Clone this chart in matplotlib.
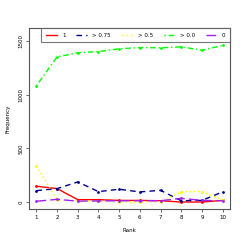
import numpy as np
import matplotlib
matplotlib.use("Agg")
import matplotlib.pyplot as plt

rank = np.arange(1, 11)
labels = ["1", "> 0.75", "> 0.5", "> 0.0", "0"]
freq_1 = [147, 125, 22, 22, 15, 15, 12, 0, 0, 15]
freq_075 = [106, 125, 187, 97, 119, 94, 109, 12, 15, 94]
freq_05 = [337, 19, 10, 5, 0, 0, 0, 97, 97, 20]
freq_00 = [1084, 1352, 1390, 1402, 1427, 1439, 1436, 1446, 1414, 1458]
freq_0 = [7, 25, 8, 10, 12, 12, 12, 34, 15, 12]

series = [freq_1, freq_075, freq_05, freq_00, freq_0]
colors = ["#FF0000", "#00008B", "#FFFF00", "#00FF00", "#A020F0"]
styles = ["-", (0, (4, 3)), (0, (1, 2)), (0, (1, 2, 4, 2)), (0, (7, 3))]

fig = plt.figure(figsize=(2.45, 2.45), dpi=100)
ax = fig.add_axes([29 / 245, 1 - 209 / 245, 201 / 245, 181 / 245])

for y, c, ls, lab in zip(series, colors, styles, labels):
    ax.plot(rank, y, color=c, linestyle=ls, lw=1.0, marker="o", ms=1.0,
            label=lab)

ax.set_xlim(0.64, 10.36)
ax.set_ylim(-65, 1621)
ax.set_xticks(rank)
ax.set_yticks([0, 500, 1000, 1500])
ax.set_yticklabels(["0", "500", "1000", "1500"], rotation=90, va="center")
ax.tick_params(labelsize=4, length=2, width=0.6, color="#555555", pad=2)
for s in ax.spines.values():
    s.set_color("#555555")
    s.set_linewidth(0.8)
ax.set_xlabel("Rank", fontsize=4, labelpad=6)
ax.set_ylabel("Frequency", fontsize=4, labelpad=6)

leg = ax.legend(ncol=5, loc="upper right", bbox_to_anchor=(0.06, 0, 0.94, 1),
                mode="expand", fontsize=4, frameon=True, fancybox=False,
                edgecolor="#555555", handlelength=2.0, handletextpad=0.9,
                borderaxespad=0, borderpad=0.85)
leg.get_frame().set_linewidth(0.8)
for h in leg.get_lines():
    h.set_marker("")

fig.savefig("out.png", dpi=100)
